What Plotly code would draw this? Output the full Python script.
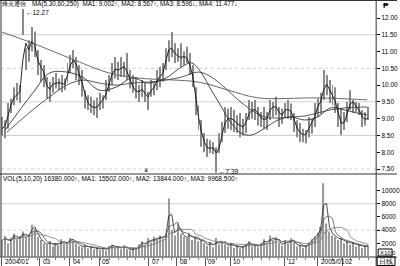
import plotly.graph_objects as go
import pandas as pd

stock_name = "烽火通信"
ma_header = "MA(5,30,60,250)  MA1: 9.002↑, MA2: 8.567↑, MA3: 8.596↓, MA4: 11.477↓"
vol_header = "VOL(5,10,20) 16380.000↑, MA1: 15502.000↑, MA2: 13844.000↑, MA3: 9968.500↑"
high_label = "←12.27"
low_label = "←7.39"

high = [9.05, 8.95, 9.47, 9.60, 9.94, 10.06, 10.00, 12.27, 11.10, 11.34,
        11.73, 11.60, 11.05, 10.75, 10.60, 10.24, 10.10, 10.24, 10.36, 10.20,
        10.30, 10.20, 10.66, 10.90, 11.05, 10.84, 10.60, 10.45, 9.85, 9.70,
        9.65, 9.55, 9.62, 9.77, 9.70, 10.15, 10.30, 10.66, 10.84, 10.70,
        10.84, 10.70, 10.96, 10.45, 10.30, 10.24, 10.00, 10.15, 10.06, 9.80,
        10.15, 10.05, 10.45, 10.55, 10.66, 11.10, 11.34, 11.58, 11.25, 11.10,
        11.25, 11.00, 11.14, 10.96, 10.60, 9.94, 9.40, 8.96, 8.57, 8.40,
        8.36, 8.30, 8.15, 8.57, 8.90, 9.35, 9.30, 9.35, 9.26, 9.10,
        9.17, 9.00, 9.17, 9.56, 9.50, 9.56, 9.35, 9.20, 9.35, 9.20,
        9.56, 9.50, 9.65, 9.35, 9.30, 9.47, 9.56, 9.45, 9.17, 8.95,
        8.87, 8.70, 8.66, 9.05, 9.00, 9.47, 9.60, 9.77, 10.45, 10.30,
        10.15, 10.00, 9.94, 9.47, 9.32, 9.20, 9.50, 9.85, 9.56, 9.50,
        9.47, 9.26, 9.20, 9.35]
low = [8.50, 8.42, 8.70, 9.17, 9.40, 9.55, 9.47, 11.49, 10.45, 10.70,
       11.00, 10.84, 10.30, 10.10, 9.94, 9.60, 9.50, 9.77, 9.90, 9.85,
       9.79, 9.85, 10.06, 10.36, 10.50, 10.15, 10.00, 9.65, 9.30, 9.26,
       9.17, 9.10, 9.02, 9.26, 9.30, 9.56, 9.80, 10.00, 10.20, 10.15,
       10.24, 10.25, 10.15, 9.90, 9.77, 9.60, 9.50, 9.65, 9.50, 9.26,
       9.65, 9.70, 9.85, 9.94, 10.10, 10.45, 10.70, 10.84, 10.66, 10.70,
       10.54, 10.60, 10.66, 10.30, 9.94, 9.10, 8.66, 8.16, 8.00, 7.86,
       7.98, 7.95, 7.39, 7.98, 8.30, 8.57, 8.70, 8.66, 8.60, 8.57,
       8.45, 8.50, 8.57, 8.96, 9.00, 8.96, 8.80, 8.75, 8.70, 8.66,
       8.96, 9.05, 9.10, 8.75, 8.85, 9.05, 9.00, 8.96, 8.60, 8.45,
       8.30, 8.30, 8.27, 8.45, 8.55, 8.75, 9.05, 9.15, 9.56, 9.70,
       9.47, 9.40, 9.17, 8.75, 8.51, 8.66, 8.90, 9.26, 9.17, 9.20,
       9.11, 8.75, 8.80, 8.96]
close = [8.70, 8.85, 9.30, 9.50, 9.75, 9.70, 9.90, 11.60, 10.90, 11.20,
         11.40, 11.00, 10.50, 10.60, 10.20, 9.80, 9.95, 10.10, 10.00, 10.15,
         9.95, 10.10, 10.50, 10.70, 10.80, 10.40, 10.20, 9.90, 9.50, 9.40,
         9.35, 9.30, 9.40, 9.55, 9.60, 9.90, 10.20, 10.45, 10.50, 10.40,
         10.60, 10.50, 10.30, 10.00, 9.90, 9.75, 9.85, 9.90, 9.60, 9.70,
         9.95, 9.90, 10.30, 10.20, 10.50, 10.90, 11.20, 11.00, 10.90, 10.85,
         10.80, 10.90, 10.75, 10.50, 10.10, 9.30, 8.80, 8.40, 8.20, 8.05,
         8.20, 8.05, 7.90, 8.40, 8.70, 9.10, 8.90, 9.10, 8.80, 8.90,
         8.70, 8.80, 9.00, 9.30, 9.20, 9.35, 9.00, 9.05, 8.90, 9.10,
         9.40, 9.30, 9.40, 9.00, 9.20, 9.30, 9.25, 9.20, 8.80, 8.70,
         8.50, 8.55, 8.50, 8.90, 8.80, 9.30, 9.40, 9.60, 10.10, 9.95,
         9.80, 9.60, 9.40, 8.90, 8.80, 9.00, 9.30, 9.60, 9.40, 9.30,
         9.20, 8.90, 9.05, 9.00]
volume = [2400, 3100, 2000, 2800, 3500, 2600, 3000, 3800, 2900, 3300,
          4800, 4200, 3000,
          2500, 2000, 1800, 2300, 1500, 2100, 1700, 2600, 1900, 2200,
          2800, 2400, 2000, 1600, 1400, 1800, 1200, 1500, 1100, 1300,
          1000, 1400, 900, 1600, 1800, 1300, 1500, 1100, 1700, 1200, 900, 1300, 1000,
          1800, 2300, 1600, 2800, 2100, 3000, 2500, 3200, 2700,
          3500, 8800, 4000, 3200, 5000, 3500, 3000,
          2800, 3600, 2500, 3000, 2300,
          2500, 2000, 1600, 2200, 1400, 2800, 1800, 2400, 1900, 1500,
          2100, 1300, 1700, 1200, 1600, 1900, 2300, 1500, 1800, 1400,
          2000, 2600, 1800, 3200, 2400, 2900, 2100, 1600, 2500, 1900,
          2800, 2200, 1500, 1800, 1300, 1700, 2100, 2600, 3000,
          3600, 4500, 11100, 5000, 3800, 3200,
          3000, 2500, 2800, 2000, 2400, 1800, 2200, 1500, 1900, 1300, 1700, 1600]

ma30_x = [1, 10.3, 16, 21.7, 27, 32.7, 38.3, 43.7, 49.3, 55, 60.3, 63.7, 67, 70.3,
          73.7, 77, 80.3, 83.7, 88.3, 92.7, 97, 101.7, 106, 110.3, 115, 119.3, 122.7]
ma30_y = [8.66, 9.76, 10.36, 10.39, 10.24, 9.85, 9.94, 10.21, 10.06, 10.21, 10.54,
          10.66, 10.36, 9.85, 9.35, 8.87, 8.57, 8.51, 8.72, 8.96, 9.05, 8.96, 9.05,
          9.32, 9.26, 9.17, 9.11]
ma60_x = [1.7, 10.3, 16, 21.7, 27, 32.7, 38.3, 43.7, 49.3, 55, 60.3, 66, 70.3, 75,
          79.3, 83.7, 88.3, 92.7, 97, 101.7, 106, 110.3, 115, 122.7]
ma60_y = [8.60, 9.26, 9.65, 10.00, 10.15, 10.06, 10.00, 10.06, 10.09, 10.15, 10.24,
          10.39, 10.24, 9.91, 9.56, 9.26, 9.05, 9.02, 9.05, 9.08, 9.17, 9.26, 9.32, 9.35]
ma250_x = [0, 10.3, 24.3, 36, 46, 66, 76, 86, 106, 122.7]
ma250_y = [11.58, 11.25, 10.75, 10.36, 10.21, 10.09, 9.85, 9.62, 9.62, 9.56]

month_labels = ["2004/01", "03", "04", "05", "07", "08", "09", "10", "12", "2005/01", "02"]
month_pos = [0, 12.7, 22.7, 32.7, 49.3, 58.7, 68.3, 76.7, 95, 106, 114.3]
price_ticks = [7.5, 8.0, 8.5, 9.0, 9.5, 10.0, 10.5, 11.0, 11.5, 12.0]
vol_ticks = [2000, 4000, 6000, 8000, 10000]

idx = list(range(len(close)))
cs = pd.Series(close)
ma5 = cs.rolling(2, min_periods=1).mean()
vs = pd.Series(volume)
vma1 = vs.rolling(2, min_periods=1).mean()
vma2 = vs.rolling(4, min_periods=1).mean()
vma3 = vs.rolling(9, min_periods=1).mean()

W, H = 400, 266
def px(x): return x / W
def py(y): return 1 - y / H

FONT = "Liberation Sans"

fig = go.Figure()
fig.add_trace(go.Bar(x=idx, y=[h - l for h, l in zip(high, low)], base=low, width=0.33,
                     marker=dict(color="#8a8a8a", line=dict(width=0)), xaxis="x", yaxis="y"))
fig.add_trace(go.Scatter(x=ma250_x, y=ma250_y, mode="lines", line=dict(color="#6a6a6a", width=1, shape="spline"),
                         xaxis="x", yaxis="y"))
fig.add_trace(go.Scatter(x=ma60_x, y=ma60_y, mode="lines", line=dict(color="#444", width=0.9, shape="spline"),
                         xaxis="x", yaxis="y"))
fig.add_trace(go.Scatter(x=ma30_x, y=ma30_y, mode="lines", line=dict(color="#333", width=0.9, shape="spline"),
                         xaxis="x", yaxis="y"))
fig.add_trace(go.Scatter(x=idx, y=ma5, mode="lines", line=dict(color="#111", width=0.9),
                         xaxis="x", yaxis="y"))

fig.add_trace(go.Bar(x=idx, y=volume, width=0.4, marker=dict(color="#9a9a9a", line=dict(width=0)),
                     xaxis="x", yaxis="y2"))
for s, c in [(vma1, "#222"), (vma2, "#555"), (vma3, "#777")]:
    fig.add_trace(go.Scatter(x=idx, y=s, mode="lines", line=dict(color=c, width=0.8),
                             xaxis="x", yaxis="y2"))

shapes = []
for v, d in [(11.5, "solid"), (10.5, "dot"), (9.5, "solid"), (8.5, "solid"), (7.5, "dot")]:
    shapes.append(dict(type="line", xref="paper", yref="y", x0=px(1), x1=px(379), y0=v, y1=v,
                       line=dict(color="#cfcfcf", width=1, dash=d), layer="below"))
for v, d in [(8000, "solid"), (4000, "dot")]:
    shapes.append(dict(type="line", xref="paper", yref="y2", x0=px(1), x1=px(379), y0=v, y1=v,
                       line=dict(color="#cfcfcf", width=1, dash=d), layer="below"))
for (x0, y0, x1, y1) in [(0, 174, 400, 174), (0, 257, 400, 257), (379, 0, 379, 266),
                         (1, 0, 1, 257), (0, 0.5, 400, 0.5)]:
    shapes.append(dict(type="line", xref="paper", yref="paper", x0=px(x0), x1=px(x1),
                       y0=py(y0), y1=py(y1), line=dict(color="#333", width=1)))
shapes.append(dict(type="rect", xref="paper", yref="paper", x0=px(381), x1=px(395), y0=py(256), y1=py(249),
                   line=dict(color="#000", width=1)))
shapes.append(dict(type="rect", xref="paper", yref="paper", x0=px(380), x1=px(398), y0=py(265.5), y1=py(257),
                   line=dict(color="#000", width=1)))

ann = []
def text(x, y, s, size=6.5, anchor="left", color="#000", yanchor="middle"):
    ann.append(dict(x=px(x), y=py(y), xref="paper", yref="paper", text=s, showarrow=False,
                    xanchor=anchor, yanchor=yanchor, font=dict(family=FONT, size=size, color=color)))

text(0, 4.5, stock_name, size=6)
text(30, 4.5, ma_header, size=6.3)
text(1, 179, vol_header)
text(24, 12, high_label)
text(219, 171, low_label)
text(148, 170, "⑥", size=5, anchor="center")
text(389, 5, "<b>₱</b>", size=8, anchor="center")
text(388, 252.5, "X10", size=6, anchor="center")
text(397, 253, "0", size=6, anchor="center")
text(389, 261.5, "日线", size=6.5, anchor="center")
for lab, pos in zip(month_labels, month_pos):
    xpix = 1 + (pos + 1 / 3) * 3
    text(xpix + 1, 261.5, lab, size=6.5)

fig.update_layout(
    width=W, height=H, margin=dict(l=0, r=0, t=0, b=0),
    paper_bgcolor="white", plot_bgcolor="white", showlegend=False, barmode="overlay",
    xaxis=dict(domain=[px(1), px(379)], range=[-1 / 3, -1 / 3 + 378 / 3], anchor="y2",
               showgrid=False, zeroline=False, showticklabels=False, tickvals=month_pos,
               ticks="outside", ticklen=8, tickcolor="#555", tickwidth=1,
               minor=dict(dtick=3, ticks="outside", ticklen=2, tickcolor="#777", tick0=0)),
    yaxis=dict(domain=[(H - 174) / H, (H - 1) / H], range=[7.351, 12.507], side="right", anchor="x",
               tickvals=price_ticks, ticktext=["%.2f" % v for v in price_ticks],
               ticks="outside", ticklen=3, tickcolor="#000", showgrid=False, zeroline=False,
               tickfont=dict(family=FONT, size=6.5, color="#000")),
    yaxis2=dict(domain=[(H - 257) / H, (H - 174) / H], range=[-76, 12500], side="right", anchor="x",
                tickvals=vol_ticks, ticktext=[str(v) for v in vol_ticks],
                ticks="outside", ticklen=3, tickcolor="#000", showgrid=False, zeroline=False,
                tickfont=dict(family=FONT, size=6.5, color="#000")),
    shapes=shapes, annotations=ann,
)
fig.write_html("out.html")
